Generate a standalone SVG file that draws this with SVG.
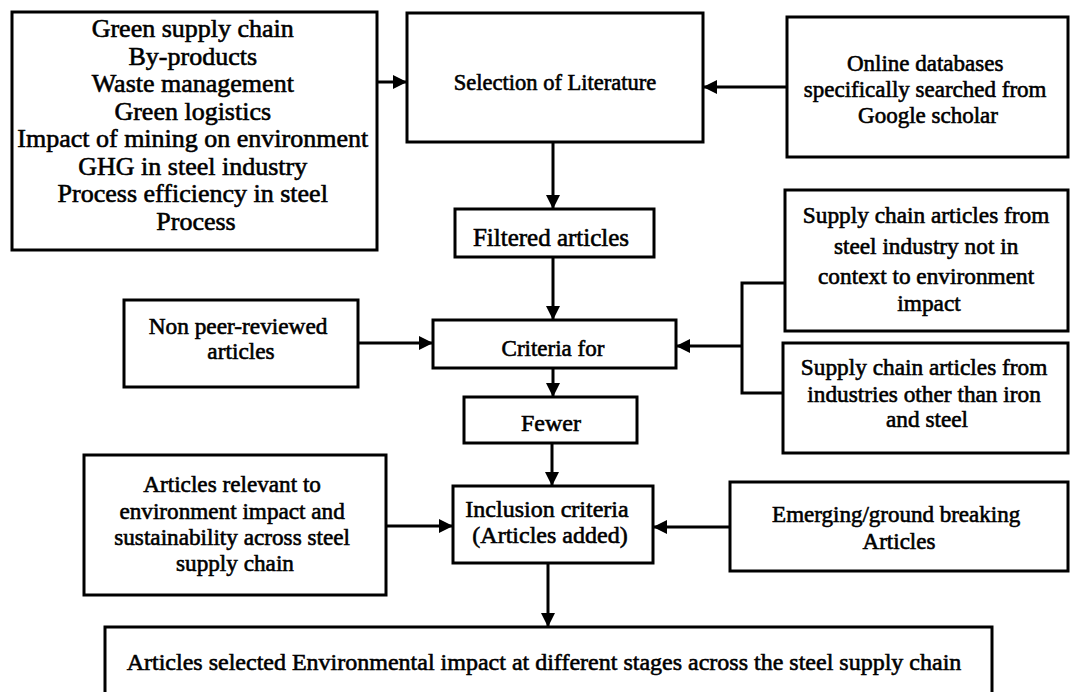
<svg xmlns="http://www.w3.org/2000/svg" width="1070" height="692" viewBox="0 0 1070 692">
<style>
.box{fill:#fff;stroke:#000;stroke-width:3}
.t{font-family:"Liberation Serif","Times New Roman",serif;fill:#000;stroke:#000;stroke-width:0.6;text-anchor:middle}
.c{fill:none;stroke:#000;stroke-width:3}
</style>
<defs>
<marker id="ah" markerUnits="userSpaceOnUse" markerWidth="14" markerHeight="14" refX="14" refY="7" orient="auto">
<path d="M0,0 L14,7 L0,14 z" fill="#000"/>
</marker>
</defs>
<rect width="1070" height="692" fill="#fff"/>
<g id="connectors">
<line class="c" x1="377" y1="82" x2="407" y2="82" marker-end="url(#ah)"/>
<line class="c" x1="787" y1="87" x2="703" y2="87" marker-end="url(#ah)"/>
<line class="c" x1="553" y1="142" x2="553" y2="209" marker-end="url(#ah)"/>
<line class="c" x1="553" y1="257" x2="553" y2="320" marker-end="url(#ah)"/>
<line class="c" x1="358" y1="343" x2="433" y2="343" marker-end="url(#ah)"/>
<path class="c" d="M785,283 H742 V393 H783"/>
<line class="c" x1="742" y1="346" x2="676" y2="346" marker-end="url(#ah)"/>
<line class="c" x1="553" y1="368" x2="553" y2="397" marker-end="url(#ah)"/>
<line class="c" x1="552" y1="443" x2="552" y2="486" marker-end="url(#ah)"/>
<line class="c" x1="386" y1="526" x2="453" y2="526" marker-end="url(#ah)"/>
<line class="c" x1="730" y1="527" x2="653" y2="527" marker-end="url(#ah)"/>
<line class="c" x1="548" y1="563" x2="548" y2="627" marker-end="url(#ah)"/>
</g>
<g id="topics">
<rect class="box" x="12" y="12" width="365" height="238"/>
<text class="t" font-size="26" x="196">
<tspan x="196" y="37">Green supply chain</tspan>
<tspan x="196" y="64.5">By-products</tspan>
<tspan x="196" y="92">Waste management</tspan>
<tspan x="196" y="119.5">Green logistics</tspan>
<tspan x="196" y="147">Impact of mining on environment</tspan>
<tspan x="196" y="174.5">GHG in steel industry</tspan>
<tspan x="196" y="202">Process efficiency in steel</tspan>
<tspan x="196" y="229.5">Process</tspan>
</text>
</g>
<g id="selection">
<rect class="box" x="407" y="13" width="296" height="129"/>
<text class="t" font-size="22.5" x="555" y="90">Selection of Literature</text>
</g>
<g id="online">
<rect class="box" x="787" y="17" width="281" height="140"/>
<text class="t" font-size="23">
<tspan x="928" y="71">Online databases</tspan>
<tspan x="928" y="97">specifically searched from</tspan>
<tspan x="928" y="123">Google scholar</tspan>
</text>
</g>
<g id="filtered">
<rect class="box" x="455" y="209" width="199" height="48"/>
<text class="t" font-size="25" x="551" y="246">Filtered articles</text>
</g>
<g id="excl1">
<rect class="box" x="785" y="190" width="283" height="141"/>
<text class="t" font-size="23.3">
<tspan x="929" y="223">Supply chain articles from</tspan>
<tspan x="929" y="254">steel industry not in</tspan>
<tspan x="929" y="284">context to environment</tspan>
<tspan x="929" y="311">impact</tspan>
</text>
</g>
<g id="excl2">
<rect class="box" x="783" y="343" width="285" height="110"/>
<text class="t" font-size="23.3">
<tspan x="927" y="375">Supply chain articles from</tspan>
<tspan x="927" y="402">industries other than iron</tspan>
<tspan x="927" y="427">and steel</tspan>
</text>
</g>
<g id="nonpeer">
<rect class="box" x="124" y="300" width="234" height="87"/>
<text class="t" font-size="23.3">
<tspan x="241" y="334">Non peer-reviewed</tspan>
<tspan x="241" y="359">articles</tspan>
</text>
</g>
<g id="criteria">
<rect class="box" x="433" y="320" width="243" height="48"/>
<text class="t" font-size="23" x="553" y="356">Criteria for</text>
</g>
<g id="fewer">
<rect class="box" x="464" y="397" width="173" height="46"/>
<text class="t" font-size="24" x="551" y="431">Fewer</text>
</g>
<g id="relevant">
<rect class="box" x="84" y="455" width="302" height="140"/>
<text class="t" font-size="23.2">
<tspan x="235" y="492">Articles relevant to</tspan>
<tspan x="235" y="519">environment impact and</tspan>
<tspan x="235" y="545">sustainability across steel</tspan>
<tspan x="235" y="571">supply chain</tspan>
</text>
</g>
<g id="inclusion">
<rect class="box" x="453" y="486" width="200" height="77"/>
<text class="t" font-size="24">
<tspan x="550" y="517">Inclusion criteria</tspan>
<tspan x="550" y="543">(Articles added)</tspan>
</text>
</g>
<g id="emerging">
<rect class="box" x="730" y="482" width="338" height="89"/>
<text class="t" font-size="23">
<tspan x="899" y="522">Emerging/ground breaking</tspan>
<tspan x="899" y="549">Articles</tspan>
</text>
</g>
<g id="selected">
<rect class="box" x="105" y="627" width="887" height="100"/>
<text class="t" font-size="24" x="544" y="670">Articles selected Environmental impact at different stages across the steel supply chain</text>
</g>
</svg>
